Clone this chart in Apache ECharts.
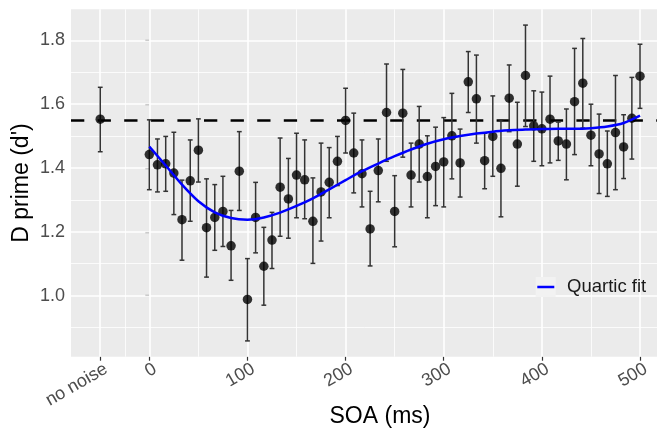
<!DOCTYPE html>
<html><head><meta charset="utf-8">
<script src="https://cdn.jsdelivr.net/npm/echarts@6/dist/echarts.min.js"></script>
<style>html,body{margin:0;padding:0;background:#fff}#c{width:657px;height:437px}</style>
</head><body><div id="c"></div>
<script>
// ---- data ----
const soa = [0,8.3,16.7,25,33.3,41.7,50,58.3,66.7,75,83.3,91.7,100,108.3,116.7,125,133.3,141.7,150,158.3,166.7,175,183.3,191.7,200,208.3,216.7,225,233.3,241.7,250,258.3,266.7,275,283.3,291.7,300,308.3,316.7,325,333.3,341.7,350,358.3,366.7,375,383.3,391.7,400,408.3,416.7,425,433.3,441.7,450,458.3,466.7,475,483.3,491.7,500];
const dprime = [1.442,1.410,1.413,1.384,1.238,1.360,1.456,1.213,1.245,1.264,1.156,1.390,0.988,1.245,1.092,1.174,1.340,1.303,1.378,1.363,1.233,1.325,1.355,1.421,1.549,1.447,1.382,1.209,1.392,1.574,1.264,1.572,1.378,1.475,1.373,1.405,1.419,1.501,1.416,1.670,1.617,1.423,1.499,1.399,1.619,1.475,1.690,1.532,1.523,1.553,1.485,1.475,1.608,1.666,1.503,1.444,1.413,1.511,1.466,1.556,1.688];
const ciLow = [1.332,1.325,1.327,1.254,1.111,1.233,1.356,1.058,1.142,1.154,1.048,1.267,0.858,1.134,0.970,1.085,1.186,1.180,1.244,1.241,1.101,1.171,1.244,1.345,1.447,1.322,1.278,1.093,1.294,1.421,1.153,1.434,1.278,1.356,1.244,1.282,1.278,1.366,1.309,1.574,1.478,1.335,1.374,1.247,1.514,1.343,1.530,1.421,1.407,1.416,1.424,1.363,1.442,1.525,1.407,1.320,1.311,1.332,1.367,1.428,1.587];
const ciHigh = [1.551,1.491,1.499,1.512,1.362,1.488,1.554,1.366,1.348,1.374,1.267,1.514,1.116,1.355,1.214,1.261,1.494,1.430,1.509,1.488,1.369,1.478,1.464,1.499,1.650,1.572,1.488,1.327,1.491,1.726,1.376,1.709,1.478,1.593,1.501,1.528,1.558,1.634,1.522,1.765,1.754,1.509,1.626,1.551,1.723,1.606,1.848,1.642,1.638,1.688,1.544,1.585,1.775,1.806,1.600,1.569,1.516,1.690,1.567,1.684,1.788];
const noNoiseX = -50;
const noNoiseValue = 1.553;
const noNoiseLow = 1.451;
const noNoiseHigh = 1.653;
const refLineValue = 1.553;
const fitSoa = [0,16.7,33.3,50,66.7,83.3,100,116.7,133.3,150,166.7,183.3,200,216.7,233.3,250,266.7,283.3,300,316.7,333.3,350,366.7,383.3,400,416.7,433.3,450,466.7,483.3,500];
const fitValue = [1.467,1.408,1.348,1.296,1.261,1.243,1.238,1.245,1.260,1.281,1.305,1.333,1.362,1.390,1.414,1.437,1.458,1.476,1.490,1.500,1.508,1.514,1.518,1.521,1.522,1.523,1.523,1.525,1.530,1.541,1.564];
const xTickValues = [-50,0,100,200,300,400,500];
const xTickLabels = ['no noise','0','100','200','300','400','500'];
const xMinorValues = [-25,50,150,250,350,450];
const yTickValues = [1.0,1.2,1.4,1.6,1.8];
const yMinorValues = [0.9,1.1,1.3,1.5,1.7];

// ---- build ----
const FONT = "'Liberation Sans', Arial, sans-serif";
const LABEL_SHIFT = 6; // rotated labels hang slightly right of their tick (ggplot hjust=1, vjust=1)
const xLabelValues = xTickValues.map(v => v + LABEL_SHIFT);
const points = [[noNoiseX, noNoiseValue]].concat(soa.map((s, i) => [s, dprime[i]]));
const bars = [[noNoiseX, noNoiseLow, noNoiseHigh]].concat(soa.map((s, i) => [s, ciLow[i], ciHigh[i]]));
const fit = fitSoa.map((s, i) => [s, fitValue[i]]);

const gridLines = [];
xMinorValues.forEach(v => gridLines.push({xAxis: v, lineStyle: {color: '#fff', width: 0.8, type: 'solid'}}));
yMinorValues.forEach(v => gridLines.push({yAxis: v, lineStyle: {color: '#fff', width: 0.8, type: 'solid'}}));
xTickValues.forEach(v => gridLines.push({xAxis: v, lineStyle: {color: '#fff', width: 1.6, type: 'solid'}}));
yTickValues.forEach(v => gridLines.push({yAxis: v, lineStyle: {color: '#fff', width: 1.6, type: 'solid'}}));

const chart = echarts.init(document.getElementById('c'), null, {renderer: 'canvas'});
chart.setOption({
  animation: false,
  backgroundColor: '#fff',
  textStyle: {fontFamily: FONT},
  grid: {left: 71, right: -10, top: 9.3, bottom: 80.3, show: true, backgroundColor: '#EBEBEB', borderWidth: 0,
    containLabel: false, outerBoundsMode: 'none'},
  xAxis: {
    type: 'value', min: -79.8, max: 527.5,
    axisLine: {show: false},
    splitLine: {show: false},
    axisTick: {show: true, customValues: xTickValues, length: 4, lineStyle: {color: '#333', width: 1.2}},
    axisLabel: {customValues: xLabelValues, rotate: 30, fontSize: 18, color: '#4D4D4D', margin: 11, fontFamily: FONT,
      hideOverlap: false,
      formatter: v => { const k = xLabelValues.indexOf(v); return k >= 0 ? xTickLabels[k] : ''; }},
    name: 'SOA (ms)', nameLocation: 'middle', nameGap: 48, nameMoveOverlap: false,
    nameTextStyle: {fontSize: 23, color: '#000', fontFamily: FONT, padding: [0, 0, 0, 22]}
  },
  yAxis: {
    type: 'value', min: 0.8085, max: 1.8975,
    axisLine: {show: false},
    splitLine: {show: false},
    axisTick: {show: true, customValues: yTickValues, length: 4, lineStyle: {color: '#333', width: 1.2}},
    axisLabel: {customValues: yTickValues, fontSize: 18, color: '#4D4D4D', margin: 6, fontFamily: FONT,
      formatter: v => v.toFixed(1)},
    name: "D prime (d')", nameLocation: 'middle', nameRotate: 90, nameGap: 38, nameMoveOverlap: false,
    nameTextStyle: {fontSize: 23, color: '#000', fontFamily: FONT}
  },
  legend: {
    data: [{name: 'Quartic fit', icon: 'rect', itemStyle: {opacity: 0, borderWidth: 0}}],
    left: 537, top: 277, padding: 0, itemWidth: 17, itemHeight: 2.6, z: 60,
    textStyle: {fontSize: 18.5, color: '#1a1a1a', fontFamily: FONT, padding: [0, 0, 0, 8]},
    selectedMode: false
  },
  graphic: [
    {type: 'rect', shape: {x: 535.7, y: 277, width: 20, height: 20}, style: {fill: '#F2F2F2'}, z: 50, silent: true},
    {type: 'line', shape: {x1: 537.3, y1: 287, x2: 554.3, y2: 287}, style: {stroke: '#0000FF', lineWidth: 2.5}, z: 51, silent: true}
  ],
  series: [
    {type: 'line', name: 'grid', data: [[noNoiseX, noNoiseValue]], showSymbol: false, symbol: 'none', lineStyle: {opacity: 0}, z: 1, silent: true,
      markLine: {silent: true, symbol: 'none', label: {show: false}, data: gridLines}},
    {type: 'line', name: 'ref', data: [[noNoiseX, noNoiseValue]], showSymbol: false, symbol: 'none', lineStyle: {opacity: 0}, z: 4, silent: true,
      markLine: {silent: true, symbol: 'none', label: {show: false},
        data: [{yAxis: refLineValue, lineStyle: {color: '#000', width: 2.5, type: [13.3, 13.3]}}]}},
    {type: 'custom', name: 'ci', data: bars, z: 5, silent: true,
      encode: {x: 0, y: [1, 2]},
      renderItem: function (params, api) {
        const x = api.value(0);
        const pLo = api.coord([x, api.value(1)]);
        const pHi = api.coord([x, api.value(2)]);
        const w = 2.4;
        const st = {stroke: '#333', lineWidth: 1.5};
        return {type: 'group', children: [
          {type: 'line', shape: {x1: pLo[0], y1: pLo[1], x2: pHi[0], y2: pHi[1]}, style: st},
          {type: 'line', shape: {x1: pLo[0] - w, y1: pLo[1], x2: pLo[0] + w, y2: pLo[1]}, style: st},
          {type: 'line', shape: {x1: pHi[0] - w, y1: pHi[1], x2: pHi[0] + w, y2: pHi[1]}, style: st}
        ]};
      }},
    {type: 'scatter', name: 'points', data: points, symbol: 'circle', symbolSize: 9.5, itemStyle: {color: '#000'}, z: 6, silent: true},
    {type: 'line', name: 'Quartic fit', data: fit, smooth: 0.3, showSymbol: false, symbol: 'none',
      lineStyle: {color: '#0000FF', width: 2.5}, itemStyle: {color: '#0000FF'}, z: 7, silent: true}
  ]
});
</script></body></html>
